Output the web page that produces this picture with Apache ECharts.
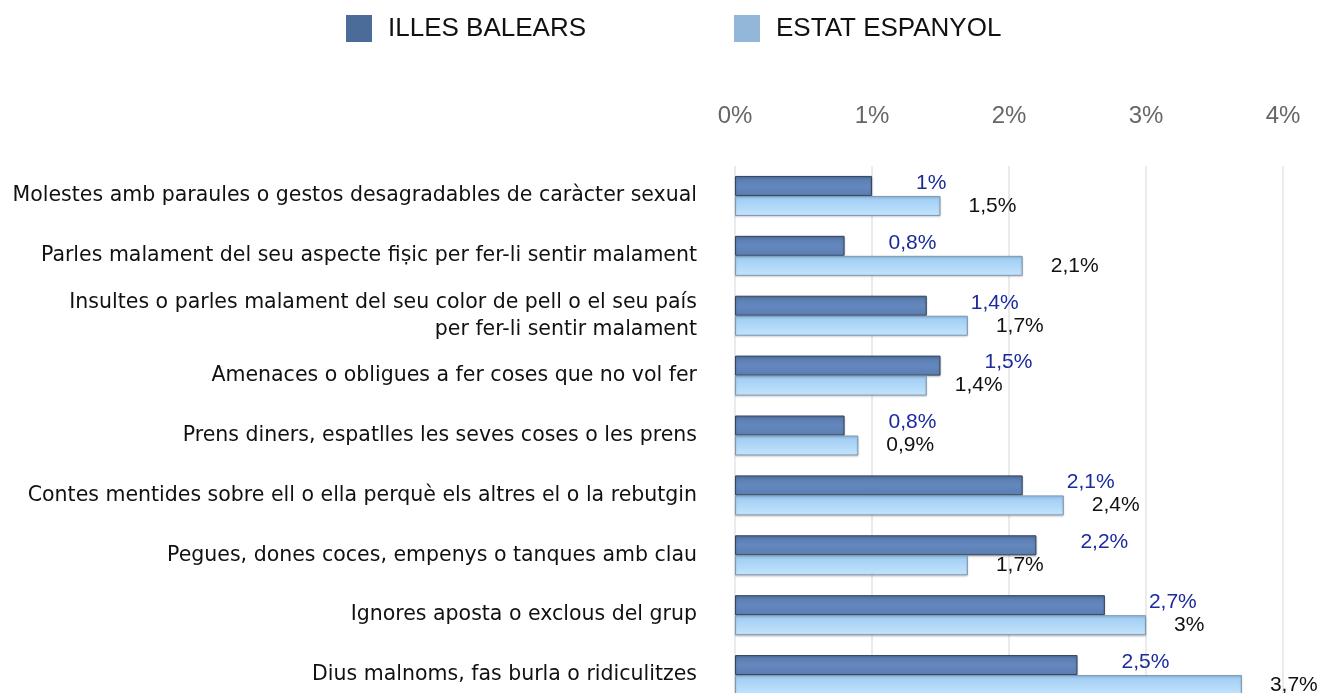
<!DOCTYPE html>
<html>
<head>
    <meta charset="utf-8">
    <title>ECharts</title>
    <script src="https://cdn.jsdelivr.net/npm/echarts@6/dist/echarts.min.js"></script>
    <style>
        html, body { margin: 0; padding: 0; overflow: hidden; background: #fff; }
    </style>
</head>
<body>
 <div id="main" style="width: 1328px;height:705px;"></div>
 <script type="text/javascript">
 var categories = [
     'Molestes amb paraules o gestos desagradables de caràcter sexual',
     'Parles malament del seu aspecte fiṣic per fer-li sentir malament',
     'Insultes o parles malament del seu color de pell o el seu país\nper fer-li sentir malament',
     'Amenaces o obligues a fer coses que no vol fer',
     'Prens diners, espatlles les seves coses o les prens',
     'Contes mentides sobre ell o ella perquè els altres el o la rebutgin',
     'Pegues, dones coces, empenys o tanques amb clau',
     'Ignores aposta o exclous del grup',
     'Dius malnoms, fas burla o ridiculitzes'
 ];
 var illesBalears = [1, 0.8, 1.4, 1.5, 0.8, 2.1, 2.2, 2.7, 2.5];
 var estatEspanyol = [1.5, 2.1, 1.7, 1.4, 0.9, 2.4, 1.7, 3, 3.7];
 var ticks = [0, 1, 2, 3, 4];

 function pct(v) {
     return String(v).replace('.', ',') + '%';
 }

 var myChart = echarts.init(document.getElementById('main'));
 myChart.setOption({
     animation: false,
     legend: {
         left: 341,
         top: 10,
         itemWidth: 26,
         itemHeight: 27,
         itemGap: 148,
         icon: 'rect',
         textStyle: {
             fontFamily: 'Liberation Sans',
             fontSize: 26,
             color: '#111',
             padding: [0, 0, 0, 11]
         },
         data: [
             { name: 'ILLES BALEARS', itemStyle: { color: '#4b6b98', borderWidth: 0, shadowBlur: 0 } },
             { name: 'ESTAT ESPANYOL', itemStyle: { color: '#93b7d9', borderWidth: 0, shadowBlur: 0 } }
         ]
     },
     grid: {
         left: 735,
         right: 45,
         top: 166,
         bottom: 0,
         containLabel: false
     },
     xAxis: {
         type: 'value',
         position: 'top',
         min: 0,
         max: 4,
         interval: 1,
         axisLine: { show: false },
         axisTick: { show: false },
         splitLine: { lineStyle: { color: '#e4e4e4', width: 1.5 } },
         axisLabel: {
             margin: 38,
             fontFamily: 'Liberation Sans',
             fontSize: 24,
             color: '#666',
             formatter: function (v) {
                 return ticks.indexOf(v) >= 0 ? v + '%' : '';
             }
         }
     },
     yAxis: {
         type: 'category',
         inverse: true,
         data: categories,
         axisLine: { show: false },
         axisTick: { show: false },
         axisLabel: {
             margin: 38,
             fontFamily: 'DejaVu Sans',
             fontSize: 20.5,
             color: '#111',
             lineHeight: 27,
             align: 'right'
         }
     },
     series: [{
         name: 'ILLES BALEARS',
         type: 'bar',
         barWidth: 20,
         barGap: '0%',
         data: illesBalears,
         itemStyle: {
             color: new echarts.graphic.LinearGradient(0, 0, 0, 1, [
                 { offset: 0, color: '#5679ad' },
                 { offset: 0.5, color: '#6488bd' },
                 { offset: 1, color: '#5a7eb2' }
             ]),
             borderColor: '#34465f',
             borderWidth: 1,
             shadowColor: 'rgba(0,0,0,0.25)',
             shadowBlur: 2,
             shadowOffsetY: 1
         },
         label: {
             show: true,
             position: 'right',
             distance: 44,
             offset: [0, -3],
             fontFamily: 'Liberation Sans',
             fontSize: 21,
             color: '#1b2a9c',
             formatter: function (p) { return pct(p.value); }
         }
     }, {
         name: 'ESTAT ESPANYOL',
         type: 'bar',
         barWidth: 20,
         data: estatEspanyol,
         itemStyle: {
             color: new echarts.graphic.LinearGradient(0, 0, 0, 1, [
                 { offset: 0, color: '#9ccbf3' },
                 { offset: 1, color: '#c4e4fc' }
             ]),
             borderColor: '#7f98b0',
             borderWidth: 1,
             shadowColor: 'rgba(0,0,0,0.2)',
             shadowBlur: 2,
             shadowOffsetY: 1
         },
         label: {
             show: true,
             position: 'right',
             distance: 28,
             fontFamily: 'Liberation Sans',
             fontSize: 21,
             color: '#111',
             formatter: function (p) { return pct(p.value); }
         }
     }]
 });
</script>
</body>
</html>
